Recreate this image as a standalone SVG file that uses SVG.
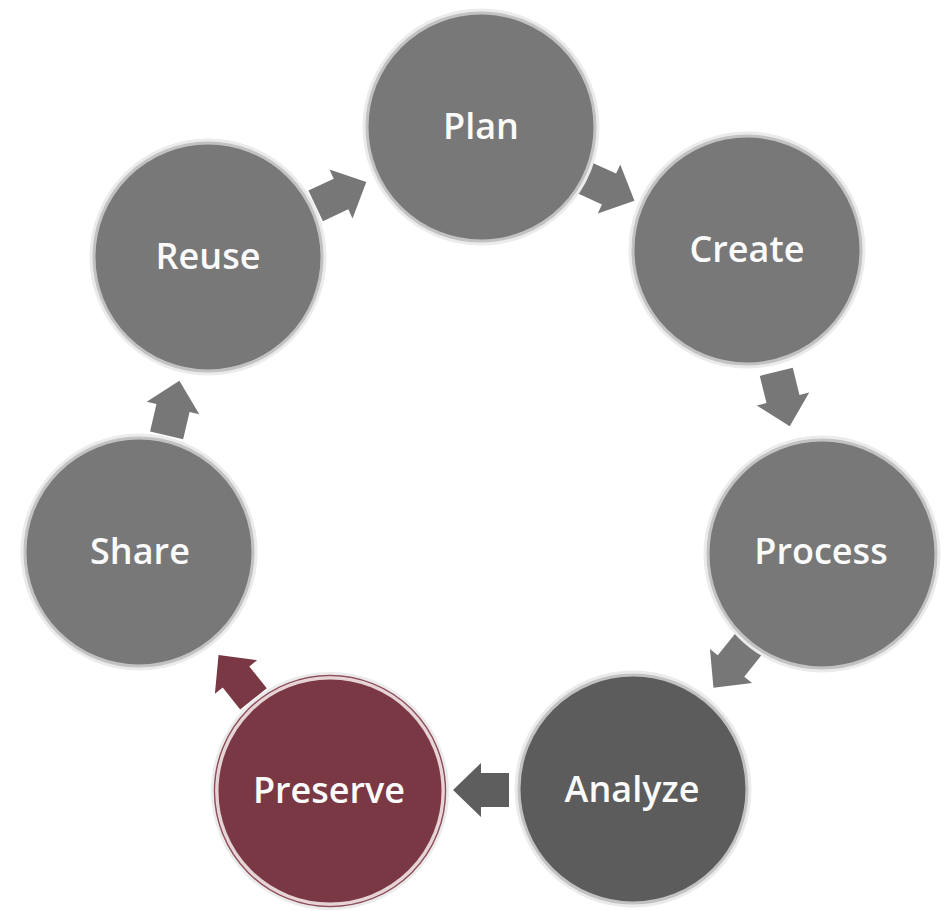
<svg xmlns="http://www.w3.org/2000/svg" width="946" height="911" viewBox="0 0 946 911">
<defs>
<style>
.ring{fill:none;stroke:#ebebeb;stroke-width:4}
.disc{stroke:#c2c2c2;stroke-width:3}
.gray{fill:#787878}
.dark{fill:#5c5c5c}
.red{fill:#7a3744;stroke:#e6d3d6;stroke-width:3}
.redline{fill:none;stroke:#8e4e5a;stroke-width:1.5}
.lbl{font-family:"Open Sans","Noto Sans","DejaVu Sans",sans-serif;font-weight:600;font-size:36px;fill:#fafafa;text-anchor:middle}
.arr{fill:#777777}
</style>
<polygon id="arrow" points="-28,-17 0,-17 0,-27 28,0 0,27 0,17 -28,17"/>
</defs>
<rect width="946" height="911" fill="#ffffff"/>
<g id="connectors">
<use href="#arrow" class="arr" transform="translate(609,189) rotate(24.6)"/>
<use href="#arrow" class="arr" transform="translate(783,399) rotate(76.1)"/>
<use href="#arrow" class="arr" transform="translate(731,666) rotate(128.8)"/>
<use href="#arrow" fill="#5e5e5e" transform="translate(481,790) rotate(180)"/>
<use href="#arrow" fill="#7a3744" transform="translate(236,677) rotate(231.4)"/>
<use href="#arrow" class="arr" transform="translate(173,408) rotate(-76.8)"/>
<use href="#arrow" class="arr" transform="translate(341,194) rotate(-25.3)"/>
</g>
<g id="plan">
<circle class="ring" cx="481" cy="127" r="116.5"/>
<circle class="disc gray" cx="481" cy="127" r="114"/>
<text class="lbl" x="481" y="139">Plan</text>
</g>
<g id="create">
<circle class="ring" cx="747" cy="250" r="116.5"/>
<circle class="disc gray" cx="747" cy="250" r="114"/>
<text class="lbl" x="747" y="262">Create</text>
</g>
<g id="process">
<circle class="ring" cx="822" cy="554" r="116.5"/>
<circle class="disc gray" cx="822" cy="554" r="114"/>
<text class="lbl" x="821" y="564">Process</text>
</g>
<g id="analyze">
<circle class="ring" cx="633" cy="789" r="116.5"/>
<circle class="disc dark" cx="633" cy="789" r="114"/>
<text class="lbl" x="632" y="802">Analyze</text>
</g>
<g id="preserve">
<circle class="ring" cx="330" cy="791" r="117"/>
<circle class="red" cx="330" cy="791" r="113"/>
<circle class="redline" cx="330" cy="791" r="115.5"/>
<text class="lbl" x="329" y="803">Preserve</text>
</g>
<g id="share">
<circle class="ring" cx="139" cy="552" r="116.5"/>
<circle class="disc gray" cx="139" cy="552" r="114"/>
<text class="lbl" x="140" y="564">Share</text>
</g>
<g id="reuse">
<circle class="ring" cx="208" cy="257" r="116.5"/>
<circle class="disc gray" cx="208" cy="257" r="114"/>
<text class="lbl" x="208" y="269">Reuse</text>
</g>
</svg>
